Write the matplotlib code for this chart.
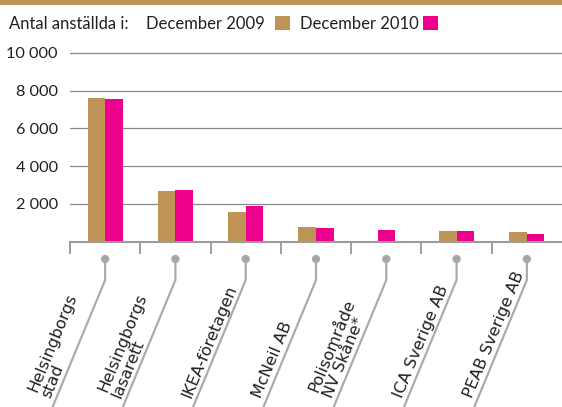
import numpy as np
import matplotlib
matplotlib.use("Agg")
import matplotlib.pyplot as plt
from matplotlib.patches import Rectangle, Circle
from matplotlib.transforms import IdentityTransform

# ==============================
# DATA
# ==============================

companies = ["Helsingborgs\nstad", "Helsingborgs\nlasarett", "IKEA-företagen",
             "McNeil AB", "Polisområde\nNV Skåne*", "ICA Sverige AB", "PEAB Sverige AB"]
dec_2009 = [7600, 2680, 1590, 790, np.nan, 565, 510]
dec_2010 = [7550, 2750, 1900, 720, 620, 565, 410]
y_ticks = [2000, 4000, 6000, 8000, 10000]
y_labels = ["2 000", "4 000", "6 000", "8 000", "10 000"]

TAN = "#BD9455"
PINK = "#EC008C"
GREY = "#A7ACB2"
TEXT = "#231F20"
TICK_FONT = "Lato"
CAT_FONT = "DejaVu Sans"

# ==============================
# FIGURE
# ==============================

W, H = 562, 407
fig = plt.figure(figsize=(W / 100, H / 100), dpi=100)

y0_px = H - 241.7          # display y of value 0
px_per_unit = 189.0 / 10000
ytop = 10200
ax = fig.add_axes([70 / W, y0_px / H, 492 / W, ytop * px_per_unit / H])
ax.set_xlim(-0.5, len(companies) - 0.5)
ax.set_ylim(0, ytop)

# bars
bw = 0.25
x = np.arange(len(companies))
for i in x:
    a, b = dec_2009[i], dec_2010[i]
    if np.isnan(a):
        ax.bar(i, b, width=bw, color=PINK, zorder=3)
    else:
        ax.bar(i - bw / 2, a, width=bw, color=TAN, zorder=3)
        ax.bar(i + bw / 2, b, width=bw, color=PINK, zorder=3)

# grid / axes styling
for s in ["top", "right", "left"]:
    ax.spines[s].set_visible(False)
ax.spines["bottom"].set_color("#9C9C9C")
ax.spines["bottom"].set_linewidth(1.5)
ax.spines["bottom"].set_zorder(4)

ax.set_yticks(y_ticks)
ax.set_yticklabels(y_labels, fontsize=11.7, fontfamily=TICK_FONT, color=TEXT)
ax.tick_params(axis="y", length=0, pad=12 * 0.72)
ax.yaxis.grid(True, color="#8A8A8A", linewidth=0.9, zorder=1)

ax.set_xticks(np.arange(len(companies)) - 0.5)
ax.set_xticklabels([])
ax.tick_params(axis="x", direction="out", length=12 * 0.72, width=1.2, color="#8F8F8F")

# ==============================
# CATEGORY LABELS WITH LEADER LINES
# ==============================

fig.canvas.draw()
ang = 67.5
t = np.tan(np.radians(90 - ang))
nx, ny = -np.sin(np.radians(ang)), np.cos(np.radians(ang))
for i, name in enumerate(companies):
    cx, cy = ax.transData.transform((i, 0))
    knee = cy - 38.3
    end_drop = 200
    fig.lines.append(plt.Line2D([cx, cx, cx - end_drop * t], [cy - 17.3, knee, knee - end_drop],
                                transform=IdentityTransform(), color=GREY, lw=1.6,
                                solid_joinstyle="round", figure=fig))
    fig.patches.append(Circle((cx, cy - 17.3), 4.2, transform=IdentityTransform(),
                              facecolor=GREY, edgecolor="none", figure=fig))
    fig.patches.append(Circle((cx, cy - 17.3), 2.0, transform=IdentityTransform(),
                              facecolor=TAN, edgecolor="none", figure=fig))
    drop = knee - 6
    lx = cx - drop * t + nx * 2.0
    ly = 6 + ny * 2.0
    fig.text(lx, ly, name, transform=IdentityTransform(), rotation=ang,
             rotation_mode="anchor", ha="left", va="bottom", fontsize=11.6,
             fontfamily=CAT_FONT, color=TEXT, linespacing=1.0)

# ==============================
# HEADER / LEGEND
# ==============================

fig.patches.append(Rectangle((0, 1 - 5 / H), 1, 5 / H, transform=fig.transFigure,
                             facecolor=TAN, edgecolor="none"))
base_y = 1 - 28.7 / H
fig.text(9 / W, base_y, "Antal anställda i:", fontsize=12,
         fontfamily=TICK_FONT, color=TEXT, va="baseline")
fig.text(146 / W, base_y, "December 2009", fontsize=12,
         fontfamily=TICK_FONT, color=TEXT, va="baseline")
fig.patches.append(Rectangle((275 / W, 1 - 30 / H), 15 / W, 14.5 / H,
                             transform=fig.transFigure, facecolor=TAN, edgecolor="none"))
fig.text(300 / W, base_y, "December 2010", fontsize=12,
         fontfamily=TICK_FONT, color=TEXT, va="baseline")
fig.patches.append(Rectangle((423 / W, 1 - 30 / H), 15 / W, 14.5 / H,
                             transform=fig.transFigure, facecolor=PINK, edgecolor="none"))

fig.savefig("out.png", dpi=100)
